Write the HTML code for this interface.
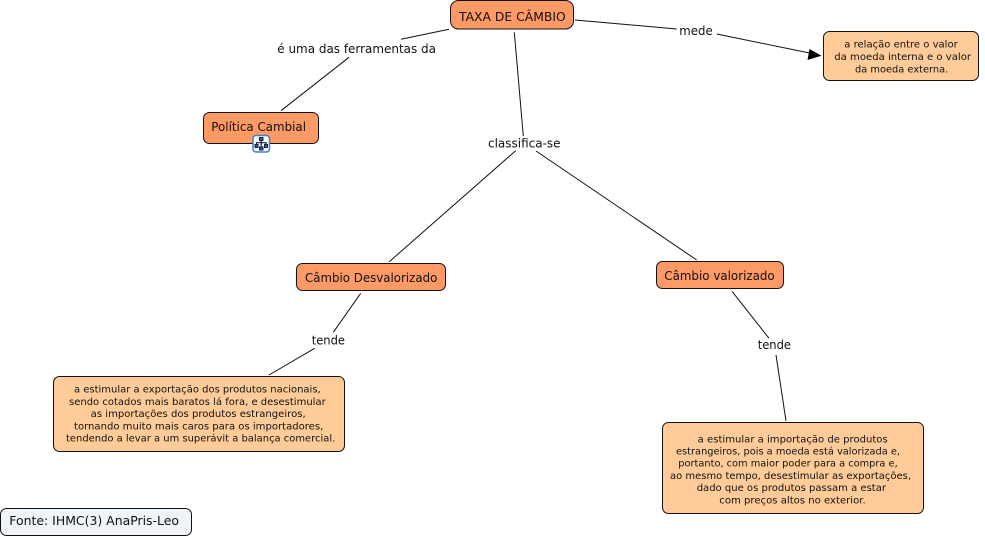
<!DOCTYPE html>
<html><head><meta charset="utf-8"><style>
html,body{margin:0;padding:0;background:#fff;width:985px;height:538px;overflow:hidden}
svg{display:block}
text{font-family:"DejaVu Sans","Liberation Sans",sans-serif;fill:#111}
.c{font-size:12px}
.l{font-size:10px}
rect{stroke:#111;stroke-width:1}
.o{fill:#ff9966}
.p{fill:#ffcc99}
line{stroke:#111;stroke-width:1}
</style></head><body>
<svg width="985" height="538" viewBox="0 0 985 538" xmlns="http://www.w3.org/2000/svg">
<line x1="449" y1="29.3" x2="401" y2="39.3"/>
<line x1="349" y1="57.3" x2="281" y2="110.7"/>
<line x1="514.3" y1="32.3" x2="523.3" y2="136"/>
<line x1="515.7" y1="150.7" x2="389.3" y2="261.7"/>
<line x1="536" y1="151" x2="696.7" y2="260"/>
<line x1="575" y1="20" x2="676.7" y2="29"/>
<line x1="716.7" y1="34" x2="812" y2="53.5"/>
<polygon points="821.5,55.7 809.5,49 807.5,60" fill="#000"/>
<line x1="360.7" y1="293.3" x2="333.3" y2="332.3"/>
<line x1="314.7" y1="348.3" x2="269" y2="375"/>
<line x1="732" y1="291.3" x2="769" y2="338.3"/>
<line x1="776" y1="355" x2="786" y2="421"/>

<rect class="o" x="450.5" y="0.5" width="123" height="28.5" rx="8"/>
<rect class="o" x="203.5" y="112.5" width="115" height="31" rx="6"/>
<rect class="o" x="296.5" y="263.5" width="149" height="27" rx="6"/>
<rect class="o" x="656.5" y="261.5" width="127" height="27" rx="6"/>
<rect class="p" x="823.5" y="31.5" width="155" height="49" rx="6"/>
<rect class="p" x="53.5" y="376.5" width="291" height="75" rx="6"/>
<rect class="p" x="662.5" y="422.5" width="261" height="91" rx="6"/>
<rect x="0.5" y="508.5" width="191" height="27" rx="6" fill="#eef4f8"/>

<text class="c" x="459" y="21" textLength="106.7" lengthAdjust="spacingAndGlyphs">TAXA DE CÂMBIO</text>
<text class="c" x="277.3" y="53" textLength="158.7" lengthAdjust="spacingAndGlyphs">é uma das ferramentas da</text>
<text class="c" x="211.3" y="131" textLength="94.7" lengthAdjust="spacingAndGlyphs">Política Cambial</text>
<text class="c" x="488" y="147.3" textLength="72.5" lengthAdjust="spacingAndGlyphs">classifica-se</text>
<text class="c" x="679.3" y="35" textLength="33.4" lengthAdjust="spacingAndGlyphs">mede</text>
<text class="c" x="305" y="282" textLength="132.3" lengthAdjust="spacingAndGlyphs">Câmbio Desvalorizado</text>
<text class="c" x="664.3" y="280" textLength="110.4" lengthAdjust="spacingAndGlyphs">Câmbio valorizado</text>
<text class="c" x="311.7" y="344.3" textLength="33.3" lengthAdjust="spacingAndGlyphs">tende</text>
<text class="c" x="757.7" y="349" textLength="33.3" lengthAdjust="spacingAndGlyphs">tende</text>
<text class="c" x="9.3" y="525" textLength="169.7" lengthAdjust="spacingAndGlyphs">Fonte: IHMC(3) AnaPris-Leo</text>

<text class="l" x="844.3" y="47.3" textLength="113.4" lengthAdjust="spacingAndGlyphs">a relação entre o valor</text>
<text class="l" x="834.3" y="60" textLength="136.7" lengthAdjust="spacingAndGlyphs">da moeda interna e o valor</text>
<text class="l" x="855" y="72.3" textLength="93.3" lengthAdjust="spacingAndGlyphs">da moeda externa.</text>

<text class="l" x="74" y="392.7" textLength="246.7" lengthAdjust="spacingAndGlyphs">a estimular a exportação dos produtos nacionais,</text>
<text class="l" x="69" y="405" textLength="256.7" lengthAdjust="spacingAndGlyphs">sendo cotados mais baratos lá fora, e desestimular</text>
<text class="l" x="90.7" y="417" textLength="215" lengthAdjust="spacingAndGlyphs">as importações dos produtos estrangeiros,</text>
<text class="l" x="74" y="429.3" textLength="249.3" lengthAdjust="spacingAndGlyphs">tornando muito mais caros para os importadores,</text>
<text class="l" x="66" y="441.3" textLength="269.3" lengthAdjust="spacingAndGlyphs">tendendo a levar a um superávit a balança comercial.</text>

<text class="l" x="697.7" y="442.3" textLength="190" lengthAdjust="spacingAndGlyphs">a estimular a importação de produtos</text>
<text class="l" x="676" y="454.3" textLength="224" lengthAdjust="spacingAndGlyphs">estrangeiros, pois a moeda está valorizada e,</text>
<text class="l" x="678.3" y="466.7" textLength="219.4" lengthAdjust="spacingAndGlyphs">portanto, com maior poder para a compra e,</text>
<text class="l" x="670" y="479" textLength="241" lengthAdjust="spacingAndGlyphs">ao mesmo tempo, desestimular as exportações,</text>
<text class="l" x="696.7" y="491" textLength="189.3" lengthAdjust="spacingAndGlyphs">dado que os produtos passam a estar</text>
<text class="l" x="719.3" y="503.3" textLength="146.4" lengthAdjust="spacingAndGlyphs">com preços altos no exterior.</text>

<rect x="253" y="135.5" width="16.5" height="16.5" rx="3" fill="#fff" style="stroke:#3f7fd0;stroke-width:1.5"/>
<g fill="#3a5a9a">
<rect x="259.5" y="137.5" width="3.5" height="3" style="stroke:#10204a"/>
<path d="M261.2 140.5V148M256.5 145V142.7H266V145" fill="none" stroke="#10204a" stroke-width="1.2"/>
<rect x="255" y="144.5" width="3" height="3" style="stroke:#10204a"/>
<rect x="264.5" y="144.5" width="3" height="3" style="stroke:#10204a"/>
<rect x="259.5" y="147" width="3.5" height="3" style="stroke:#10204a"/>
</g>
</svg>
</body></html>
